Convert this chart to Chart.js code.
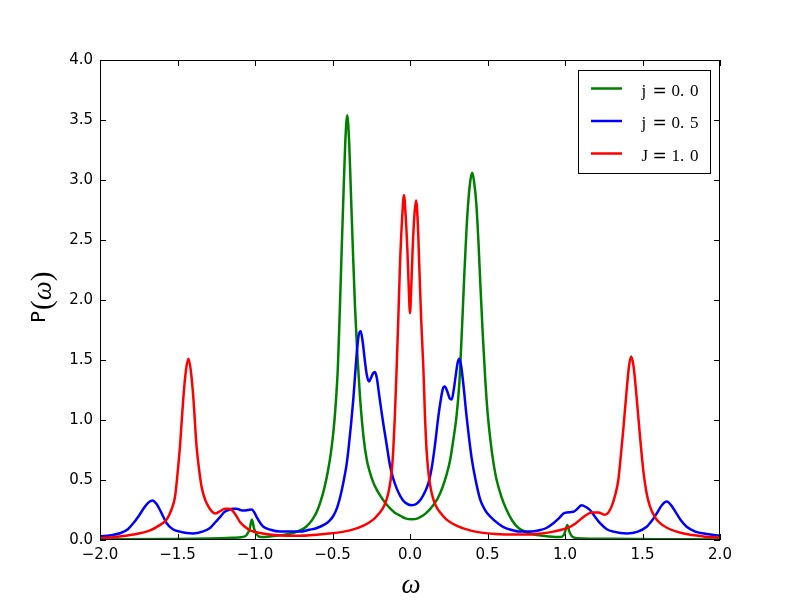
<!DOCTYPE html>
<html>
<head>
<meta charset="utf-8">
<script src="https://cdn.jsdelivr.net/npm/chart.js@4"></script>
<style>
  body { margin: 0; background: #fff; }
  #wrap { width: 800px; height: 600px; }
</style>
</head>
<body>
<div id="wrap"><canvas id="spectrum" width="800" height="600"></canvas></div>
<script>
const seriesLabels = ['j=0.0', 'j=0.5', 'J=1.0'];
const seriesColors = ['#008000', '#0000ff', '#ff0000'];

const xTickValues = [-2, -1.5, -1, -0.5, 0, 0.5, 1, 1.5, 2];
const yTickValues = [0, 0.5, 1, 1.5, 2, 2.5, 3, 3.5, 4];

// j = 0.0
const greenX = [-2.0, -1.6, -1.3, -1.15, -1.08, -1.055, -1.035, -1.02, -1.005, -0.985,
  -0.96, -0.9, -0.8, -0.75, -0.71, -0.67, -0.63, -0.6, -0.58, -0.555,
  -0.53, -0.51, -0.495, -0.48, -0.465, -0.452, -0.44, -0.43, -0.418, -0.405,
  -0.392, -0.38, -0.368, -0.355, -0.34, -0.323, -0.3, -0.279, -0.26, -0.237,
  -0.215, -0.19, -0.16, -0.13, -0.1, -0.06, -0.03, 0.01, 0.05, 0.1, 0.15, 0.18,
  0.21, 0.235, 0.258, 0.28, 0.3, 0.318, 0.335, 0.35, 0.365, 0.378,
  0.39, 0.402, 0.414, 0.428, 0.441, 0.455, 0.47, 0.485, 0.5, 0.52,
  0.54, 0.559, 0.59, 0.62, 0.66, 0.7, 0.75, 0.8, 0.9, 0.97,
  0.992, 1.005, 1.015, 1.028, 1.045, 1.08, 1.3, 1.6, 2.0];
const greenY = [0.005, 0.008, 0.012, 0.018, 0.025, 0.04, 0.09, 0.17, 0.09, 0.04,
  0.025, 0.03, 0.045, 0.06, 0.08, 0.11, 0.17, 0.24, 0.31, 0.42,
  0.57, 0.73, 0.89, 1.12, 1.45, 1.95, 2.45, 2.85, 3.3, 3.54,
  3.3, 2.85, 2.4, 1.95, 1.55, 1.2, 0.86, 0.67, 0.57, 0.48,
  0.42, 0.365, 0.31, 0.265, 0.23, 0.2, 0.18, 0.172, 0.18, 0.22, 0.29, 0.35,
  0.44, 0.54, 0.66, 0.84, 1.03, 1.3, 1.75, 2.2, 2.6, 2.85,
  3.0, 3.06, 2.98, 2.8, 2.5, 2.1, 1.7, 1.35, 1.07, 0.82,
  0.63, 0.5, 0.36, 0.26, 0.16, 0.1, 0.065, 0.045, 0.03, 0.025,
  0.04, 0.09, 0.125, 0.07, 0.03, 0.015, 0.01, 0.007, 0.005];

// j = 0.5
const blueX = [-2.0, -1.93, -1.871, -1.82, -1.785, -1.75, -1.72, -1.69, -1.662, -1.635,
  -1.613, -1.59, -1.57, -1.53, -1.484, -1.44, -1.398, -1.34, -1.29, -1.255,
  -1.226, -1.2, -1.172, -1.14, -1.118, -1.095, -1.075, -1.045, -1.021, -1.0,
  -0.989, -0.965, -0.946, -0.9, -0.839, -0.78, -0.71, -0.65, -0.6, -0.55,
  -0.52, -0.495, -0.47, -0.45, -0.43, -0.409, -0.395, -0.38, -0.366, -0.355,
  -0.344, -0.332, -0.318, -0.305, -0.29, -0.278, -0.265, -0.252, -0.238, -0.226,
  -0.214, -0.2, -0.185, -0.17, -0.15, -0.129, -0.11, -0.086, -0.06, -0.03,
  0.011, 0.04, 0.07, 0.1, 0.12, 0.14, 0.16, 0.183, 0.2, 0.212,
  0.224, 0.24, 0.256, 0.269, 0.282, 0.296, 0.308, 0.318, 0.33, 0.344,
  0.355, 0.365, 0.38, 0.398, 0.42, 0.452, 0.48, 0.5, 0.538, 0.6,
  0.65, 0.71, 0.78, 0.839, 0.88, 0.925, 0.96, 0.99, 1.011, 1.054,
  1.08, 1.107, 1.135, 1.161, 1.19, 1.226, 1.27, 1.312, 1.398, 1.47,
  1.527, 1.56, 1.591, 1.625, 1.656, 1.69, 1.72, 1.75, 1.785, 1.84,
  1.914, 2.0];
const blueY = [0.03, 0.04, 0.056, 0.09, 0.14, 0.2, 0.26, 0.31, 0.33, 0.3,
  0.25, 0.19, 0.14, 0.09, 0.07, 0.058, 0.055, 0.07, 0.1, 0.15,
  0.19, 0.23, 0.25, 0.26, 0.26, 0.25, 0.245, 0.25, 0.255, 0.22,
  0.19, 0.14, 0.11, 0.085, 0.07, 0.07, 0.07, 0.085, 0.1, 0.13,
  0.16, 0.2, 0.27, 0.36, 0.48, 0.63, 0.78, 0.97, 1.17, 1.36,
  1.55, 1.7, 1.74, 1.65, 1.48, 1.37, 1.32, 1.35, 1.39, 1.40,
  1.35, 1.22, 1.08, 0.95, 0.79, 0.62, 0.52, 0.43, 0.36, 0.31,
  0.29, 0.3, 0.34, 0.41, 0.48, 0.6, 0.78, 1.03, 1.18, 1.26,
  1.28, 1.24, 1.18, 1.17, 1.25, 1.38, 1.48, 1.51, 1.45, 1.3,
  1.16, 1.03, 0.86, 0.68, 0.52, 0.34, 0.26, 0.22, 0.17, 0.11,
  0.085, 0.07, 0.07, 0.083, 0.1, 0.14, 0.18, 0.22, 0.23, 0.235,
  0.26, 0.29, 0.275, 0.25, 0.2, 0.14, 0.09, 0.07, 0.055, 0.07,
  0.11, 0.16, 0.22, 0.29, 0.32, 0.28, 0.22, 0.16, 0.11, 0.07,
  0.05, 0.035];

// J = 1.0
const redX = [-2.0, -1.9, -1.785, -1.677, -1.62, -1.57, -1.54, -1.516, -1.5, -1.484,
  -1.462, -1.445, -1.43, -1.415, -1.398, -1.377, -1.36, -1.344, -1.32, -1.301,
  -1.28, -1.258, -1.225, -1.194, -1.17, -1.15, -1.12, -1.097, -1.065, -1.032,
  -0.95, -0.86, -0.71, -0.55, -0.387, -0.3, -0.237, -0.2, -0.165, -0.14,
  -0.125, -0.116, -0.108, -0.098, -0.086, -0.075, -0.065, -0.05, -0.039, -0.028,
  -0.017, -0.008, 0.0, 0.008, 0.017, 0.028, 0.039, 0.05, 0.06, 0.072,
  0.086, 0.097, 0.107, 0.116, 0.125, 0.14, 0.165, 0.2, 0.236, 0.3,
  0.387, 0.55, 0.71, 0.85, 0.925, 1.032, 1.07, 1.107, 1.14, 1.172,
  1.215, 1.258, 1.28, 1.301, 1.325, 1.344, 1.36, 1.376, 1.398, 1.413,
  1.427, 1.442, 1.458, 1.48, 1.505, 1.525, 1.548, 1.58, 1.613, 1.66,
  1.72, 1.8, 1.892, 2.0];
const redY = [0.015, 0.025, 0.045, 0.08, 0.12, 0.17, 0.25, 0.36, 0.55, 0.78,
  1.19, 1.42, 1.51, 1.42, 1.19, 0.78, 0.58, 0.44, 0.33, 0.28,
  0.24, 0.22, 0.24, 0.26, 0.26, 0.25, 0.2, 0.15, 0.11, 0.08,
  0.055, 0.04, 0.035, 0.05, 0.08, 0.12, 0.17, 0.22, 0.29, 0.39,
  0.5, 0.6, 0.75, 1.02, 1.44, 1.86, 2.28, 2.7, 2.875, 2.7,
  2.42, 2.1, 1.89, 2.1, 2.42, 2.7, 2.83, 2.65, 2.28, 1.84,
  1.44, 1.02, 0.75, 0.6, 0.5, 0.39, 0.29, 0.22, 0.17, 0.12,
  0.08, 0.05, 0.045, 0.055, 0.07, 0.11, 0.14, 0.18, 0.21, 0.23,
  0.23, 0.21, 0.23, 0.28, 0.38, 0.5, 0.7, 0.92, 1.25, 1.45,
  1.53, 1.45, 1.25, 0.92, 0.58, 0.4, 0.28, 0.19, 0.14, 0.1,
  0.07, 0.045, 0.03, 0.02];

const pts = (xs, ys) => xs.map((x, i) => ({ x: x, y: ys[i] }));
const seriesData = [pts(greenX, greenY), pts(blueX, blueY), pts(redX, redY)];

// frame, inward ticks on all sides, legend box and axis labels
const decor = {
  id: 'decor',
  afterDatasetsDraw(chart) {
    const { ctx, chartArea: a, scales: { x, y } } = chart;
    ctx.save();
    ctx.strokeStyle = '#000';
    ctx.lineWidth = 1;
    ctx.beginPath();
    x.ticks.forEach(t => {
      const px = Math.round(x.getPixelForValue(t.value)) + 0.5;
      ctx.moveTo(px, a.bottom); ctx.lineTo(px, a.bottom - 6);
      ctx.moveTo(px, a.top); ctx.lineTo(px, a.top + 6);
    });
    y.ticks.forEach(t => {
      const py = Math.round(y.getPixelForValue(t.value)) + 0.5;
      ctx.moveTo(a.left, py); ctx.lineTo(a.left + 6, py);
      ctx.moveTo(a.right, py); ctx.lineTo(a.right - 6, py);
    });
    ctx.stroke();
    ctx.strokeRect(a.left + 0.5, a.top + 0.5, a.width - 1, a.height - 1);

    // legend
    const bx = 578.5, by = 70.5, bw = 132, bh = 103;
    ctx.fillStyle = '#fff';
    ctx.fillRect(bx, by, bw, bh);
    ctx.strokeRect(bx, by, bw, bh);
    chart.data.datasets.forEach((ds, i) => {
      const ly = 88.5 + i * 32.5;
      ctx.strokeStyle = ds.borderColor;
      ctx.lineWidth = 2.5;
      ctx.beginPath();
      ctx.moveTo(591, ly); ctx.lineTo(622, ly);
      ctx.stroke();
      const [lhs, rhs] = ds.label.split('=');
      const [ip, fp] = rhs.split('.');
      const tx = 641.5, base = ly + 7;
      ctx.fillStyle = '#000';
      ctx.textBaseline = 'alphabetic';
      ctx.textAlign = 'left';
      ctx.font = '17px "Liberation Serif"';
      ctx.fillText(lhs, tx, base);
      ctx.fillText(ip + '.', tx + 30, base);
      ctx.fillText(fp, tx + 48.5, base);
      ctx.font = '17px "DejaVu Sans"';
      ctx.fillText('=', tx + 11, base);
    });

    // axis labels
    ctx.fillStyle = '#000';
    ctx.textAlign = 'center';
    ctx.textBaseline = 'alphabetic';
    ctx.font = 'italic 27px "Liberation Serif"';
    ctx.fillText('ω', 411, 593);

    ctx.translate(45, 323);
    ctx.rotate(-Math.PI / 2);
    ctx.textAlign = 'left';
    ctx.font = '20px "DejaVu Sans"';
    ctx.fillText('P', 0, 0);
    const pw = ctx.measureText('P').width;
    ctx.font = '29px "Liberation Serif"';
    ctx.fillText('(', pw + 1, 6);
    const lw = ctx.measureText('(').width;
    ctx.font = 'italic 27px "Liberation Serif"';
    ctx.fillText('ω', pw + 1 + lw, 6);
    const ow = ctx.measureText('ω').width;
    ctx.font = '29px "Liberation Serif"';
    ctx.fillText(')', pw + 1 + lw + ow, 6);
    ctx.restore();
  }
};

const ctx = document.getElementById('spectrum').getContext('2d');
const spectrumChart = new Chart(ctx, {
  type: 'line',
  data: {
    datasets: seriesLabels.map((label, i) => ({
      label: label,
      data: seriesData[i],
      borderColor: seriesColors[i],
      backgroundColor: seriesColors[i],
      borderWidth: 2.5,
      pointRadius: 0,
      fill: false,
      cubicInterpolationMode: 'monotone',
      order: 3 - i
    }))
  },
  options: {
    responsive: false,
    animation: false,
    layout: { padding: { top: 60, right: 80, left: 0, bottom: 0 } },
    plugins: {
      legend: { display: false },
      tooltip: { enabled: false }
    },
    scales: {
      x: {
        type: 'linear',
        min: -2,
        max: 2,
        grid: { display: false, drawTicks: false },
        border: { display: false },
        afterBuildTicks: s => { s.ticks = xTickValues.map(v => ({ value: v })); },
        afterFit: s => { s.height = 60; },
        ticks: {
          padding: 6,
          color: '#000',
          font: { family: 'DejaVu Sans', size: 15 },
          maxRotation: 0,
          callback: v => v.toFixed(1).replace('-', '\u2212')
        }
      },
      y: {
        min: 0,
        max: 4,
        grid: { display: false, drawTicks: false },
        border: { display: false },
        afterBuildTicks: s => { s.ticks = yTickValues.map(v => ({ value: v })); },
        afterFit: s => { s.width = 100; },
        ticks: {
          padding: 7,
          color: '#000',
          font: { family: 'DejaVu Sans', size: 15 },
          callback: v => v.toFixed(1)
        }
      }
    }
  },
  plugins: [decor]
});
</script>
</body>
</html>
